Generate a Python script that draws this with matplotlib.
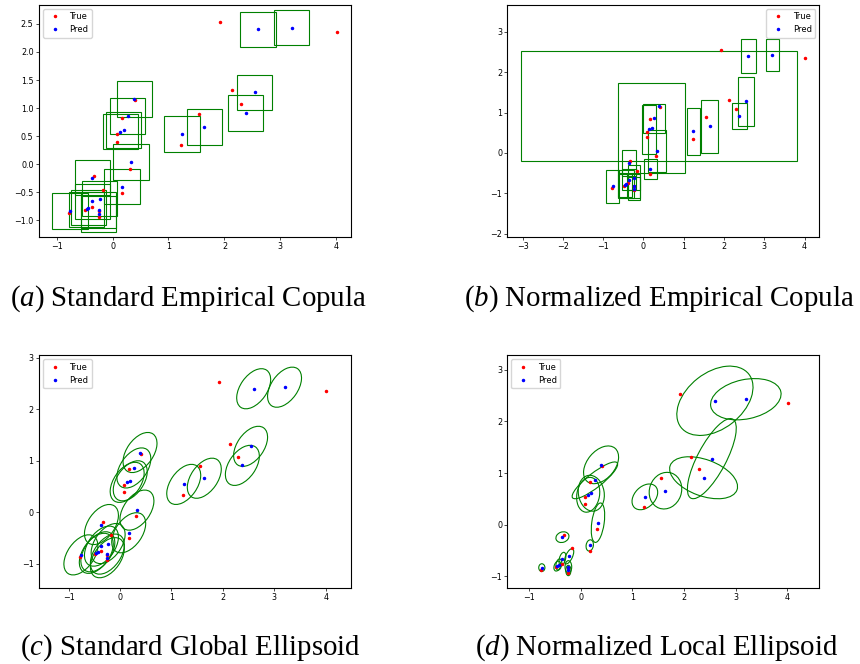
"""
Comparaison des régions de confiance (boîtes et ellipses) autour des prédictions
Quatre variantes : copule empirique standard / normalisée, ellipsoïde global / local
"""

import matplotlib
matplotlib.use('Agg')
import matplotlib.pyplot as plt
from matplotlib.patches import Rectangle, Ellipse

# Points observés (True) et prédits (Pred)
x_true = [1.92, 4.01, 2.13, 2.29, 1.55, 1.23, 0.41, 0.17, 0.08, 0.08,
          0.32, 0.17, -0.33, -0.17, -0.375, -0.49, -0.245, -0.245, -0.78]
y_true = [2.54, 2.36, 1.32, 1.08, 0.90, 0.34, 1.14, 0.83, 0.53, 0.40,
          -0.08, -0.51, -0.20, -0.45, -0.755, -0.82, -0.83, -0.93, -0.87]

x_pred = [2.60, 3.20, 2.54, 2.38, 1.64, 1.24, 0.39, 0.27, 0.14, 0.20,
          0.33, 0.17, -0.36, -0.23, -0.36, -0.43, -0.46, -0.245, -0.245, -0.76]
y_pred = [2.40, 2.43, 1.28, 0.91, 0.66, 0.54, 1.16, 0.86, 0.58, 0.61,
          0.04, -0.40, -0.24, -0.61, -0.66, -0.77, -0.80, -0.815, -0.885, -0.83]

# (a) copule empirique standard : même demi-côté pour toutes les boîtes
demi_cote_std = 0.315

# (b) copule empirique normalisée : demi-largeur / demi-hauteur par point
demi_larg_norm = [0.185, 0.16, 0.20, 0.18, 0.20, 0.16, 3.42, 0.275, 0.165, 0.82,
                  0.22, 0.16, 0.18, 0.15, 0.18, 0.20, 0.17, 0.16, 0.15, 0.165]
demi_haut_norm = [0.41, 0.40, 0.61, 0.32, 0.66, 0.58, 1.355, 0.36, 0.60, 1.11,
                  0.52, 0.25, 0.32, 0.30, 0.26, 0.35, 0.29, 0.30, 0.28, 0.41]

# (c) ellipsoïde global : même ellipse pour tous les points
larg_glob = 0.88
haut_glob = 0.52
angle_glob = 55

# (d) ellipsoïde local : demi-axes et orientation par point
grand_axe_loc = [0.836, 0.695, 0.866, 0.69, 0.36, 0.29, 0.42, 0.55, 0.34, 0.35,
                 0.385, 0.11, 0.13, 0.16, 0.13, 0.11, 0.10, 0.12, 0.10, 0.075]
petit_axe_loc = [0.546, 0.381, 0.277, 0.352, 0.31, 0.20, 0.27, 0.14, 0.22, 0.25,
                 0.12, 0.07, 0.10, 0.065, 0.06, 0.055, 0.06, 0.065, 0.05, 0.06]
angle_loc = [38, 12, 62, -20, 70, 45, 50, 38, 80, 100,
             82, 80, 20, 65, 75, 80, 70, 90, 90, 90]

lettres = ['a', 'b', 'c', 'd']
titres = ['Standard Empirical Copula', 'Normalized Empirical Copula',
          'Standard Global Ellipsoid', 'Normalized Local Ellipsoid']

ticks_x = {'a': [-1, 0, 1, 2, 3, 4], 'b': [-3, -2, -1, 0, 1, 2, 3, 4],
           'c': [-1, 0, 1, 2, 3, 4], 'd': [-1, 0, 1, 2, 3, 4]}
ticks_y = {'a': [-1.0, -0.5, 0.0, 0.5, 1.0, 1.5, 2.0, 2.5], 'b': [-2, -1, 0, 1, 2, 3],
           'c': [-1, 0, 1, 2, 3], 'd': [-1, 0, 1, 2, 3]}
limites = {'a': ((-1.32, 4.26), (-1.30, 2.84)), 'b': ((-3.38, 4.37), (-2.09, 3.67)),
           'c': ((-1.58, 4.49), (-1.48, 3.05)), 'd': ((-1.43, 4.63), (-1.23, 3.28))}

VERT = 'green'

plt.rcParams['mathtext.fontset'] = 'custom'
plt.rcParams['mathtext.rm'] = 'Liberation Serif'
plt.rcParams['mathtext.it'] = 'Liberation Serif:italic'


def tracer_points(ax, loc_legende):
    """Nuages True / Pred + légende"""
    ax.plot(x_true, y_true, 'r.', ms=3, label='True')
    ax.plot(x_pred, y_pred, 'b.', ms=3, label='Pred')
    ax.legend(loc=loc_legende, fontsize=6)


def configurer_axes(ax, cle):
    xlim, ylim = limites[cle]
    ax.set_xlim(xlim)
    ax.set_ylim(ylim)
    ax.set_xticks(ticks_x[cle])
    ax.set_yticks(ticks_y[cle])
    ax.tick_params(labelsize=5.8, length=2.2, width=0.5, pad=1.5)
    for s in ax.spines.values():
        s.set_linewidth(0.8)


fig = plt.figure(figsize=(8.6, 6.64), dpi=100)

positions = {'a': [0.045, 0.6426, 0.363, 0.3503], 'b': [0.5899, 0.6426, 0.363, 0.3503],
             'c': [0.045, 0.114, 0.363, 0.3509], 'd': [0.5899, 0.114, 0.363, 0.3509]}

# (a) boîtes de côté constant
ax = fig.add_axes(positions['a'])
tracer_points(ax, 'upper left')
for xp, yp in zip(x_pred, y_pred):
    ax.add_patch(Rectangle((xp - demi_cote_std, yp - demi_cote_std),
                           2 * demi_cote_std, 2 * demi_cote_std,
                           fill=False, edgecolor=VERT, lw=0.8))
configurer_axes(ax, 'a')

# (b) boîtes normalisées
ax = fig.add_axes(positions['b'])
tracer_points(ax, 'upper right')
for xp, yp, dl, dh in zip(x_pred, y_pred, demi_larg_norm, demi_haut_norm):
    ax.add_patch(Rectangle((xp - dl, yp - dh), 2 * dl, 2 * dh,
                           fill=False, edgecolor=VERT, lw=0.8))
configurer_axes(ax, 'b')

# (c) ellipses globales
ax = fig.add_axes(positions['c'])
tracer_points(ax, 'upper left')
for xp, yp in zip(x_pred, y_pred):
    ax.add_patch(Ellipse((xp, yp), larg_glob, haut_glob, angle=angle_glob,
                         fill=False, edgecolor=VERT, lw=0.8))
configurer_axes(ax, 'c')

# (d) ellipses locales
ax = fig.add_axes(positions['d'])
tracer_points(ax, 'upper left')
for xp, yp, ga, pa, ang in zip(x_pred, y_pred, grand_axe_loc, petit_axe_loc, angle_loc):
    ax.add_patch(Ellipse((xp, yp), 2 * ga, 2 * pa, angle=ang,
                         fill=False, edgecolor=VERT, lw=0.8))
configurer_axes(ax, 'd')

# Légendes des sous-figures
centres = {'a': (188 / 860, 1 - 306 / 664), 'b': (659 / 860, 1 - 306 / 664),
           'c': (190 / 860, 1 - 655 / 664), 'd': (657 / 860, 1 - 655 / 664)}
for lettre, titre in zip(lettres, titres):
    cx, cy = centres[lettre]
    fig.text(cx, cy, f'$(\\mathit{{{lettre}}})$ {titre}', ha='center', va='baseline',
             fontsize=20.8, family='Liberation Serif')

plt.savefig('out.png', dpi=100)
plt.close()
